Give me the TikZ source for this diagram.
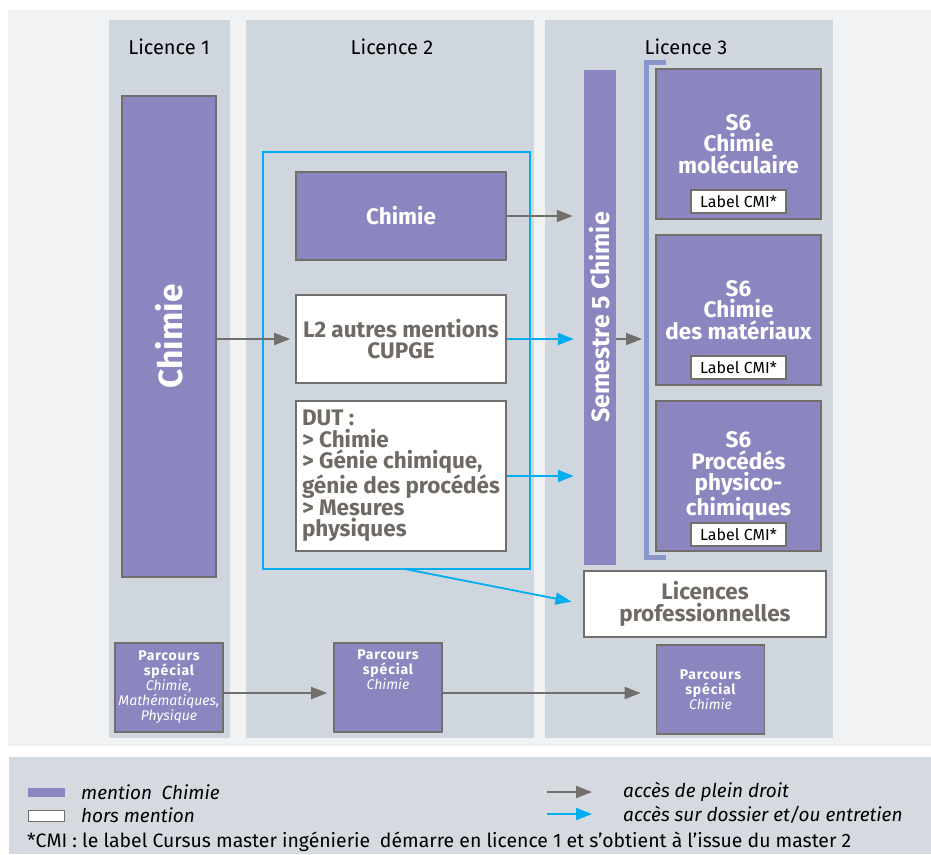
\documentclass[tikz,border=0pt]{standalone}
\usepackage{fontspec}
\setmainfont{Fira Sans}
\definecolor{bg_out}{rgb}{0.945, 0.949, 0.957}
\definecolor{col_c}{rgb}{0.816, 0.839, 0.871}
\definecolor{leg_c}{rgb}{0.835, 0.855, 0.882}
\definecolor{purple_c}{rgb}{0.545, 0.525, 0.749}
\definecolor{frame_c}{rgb}{0.447, 0.431, 0.420}
\definecolor{txt_c}{rgb}{0.439, 0.416, 0.396}
\definecolor{blue_c}{rgb}{0.0, 0.682, 0.937}
\definecolor{brace_c}{rgb}{0.541, 0.588, 0.792}
\usetikzlibrary{arrows.meta,
                positioning}

\begin{document}
\begin{tikzpicture}[
			x=1pt, y=-1pt,
			col/.style = {fill=col_c, inner sep=0pt, anchor=north west, minimum height=718},
			mbox/.style = {fill=purple_c, draw=frame_c, line width=1.6pt, inner sep=0pt, text=white, align=center, font=\bfseries\fontsize{22.5}{21.5}\selectfont},
			wbox/.style = {fill=white, draw=frame_c, line width=1.6pt, inner sep=0pt, text=txt_c, align=center, font=\bfseries\fontsize{22.5}{21.5}\selectfont},
			cmi/.style = {fill=white, draw=frame_c, line width=1.6pt, minimum width=95, minimum height=23, inner sep=0pt, font=\fontsize{16}{17}\selectfont},
			pbox/.style = {fill=purple_c, draw=frame_c, line width=1.6pt, minimum width=108, minimum height=89, inner sep=0pt},
			ptext/.style = {text=white, align=center, inner sep=0pt, font=\fontsize{14}{15}\selectfont},
			year/.style = {font=\fontsize{20}{22}\selectfont},
			vtext/.style = {rotate=90, text=white, inner sep=0pt},
			legtxt/.style = {anchor=west, inner sep=0pt, font=\itshape\fontsize{19}{21}\selectfont},
			gr/.style = {draw=frame_c, line width=1.8pt, -{Triangle[length=16pt,width=12pt]}},
			bl/.style = {draw=blue_c, line width=1.8pt, -{Triangle[length=16pt,width=12pt]}},
			]
			\newfontfamily\spacedbf[LetterSpace=6]{Fira Sans Bold}
			\useasboundingbox (0,0) rectangle (931,854);
			\fill[bg_out] (8,10) rectangle (931,746);
			\fill[leg_c] (9,757) rectangle (931,854);
			% columns
			\node[col, minimum width=121] (c1) at (109,20) {};
			\node[col, minimum width=288] (c2) at (246,20) {};
			\node[col, minimum width=288] (c3) at (545,20) {};
			\node[year] (t1) at (169,47) {Licence 1};
			\node[year] (t2) at (392,47) {Licence 2};
			\node[year] (t3) at (686,47) {Licence 3};
			% licence 1
			\node[mbox, minimum width=94, minimum height=481] (ch1) at (169,336.5) {};
			\node[vtext, font=\bfseries\fontsize{33.5}{34}\selectfont] at (ch1.center) {Chimie};
			% licence 2
			\node[draw=blue_c, line width=2pt, minimum width=267, minimum height=417, inner sep=0pt] (fr) at (396.5,360.5) {};
			\node[mbox, minimum width=210, minimum height=88] (ch2) at (401,216) {Chimie};
			\node[wbox, minimum width=210, minimum height=88] (aut) at (401,339) {L2 autres mentions\\CUPGE};
			\node[wbox, minimum width=210, minimum height=150, align=left] (dut) at (401,476) {DUT :\\> Chimie\\> Génie chimique,\\génie des procédés\\> Mesures\\physiques};
			% licence 3
			\node[fill=purple_c, minimum width=32, minimum height=495, inner sep=0pt] (sem) at (600,317.5) {};
			\node[vtext, font=\bfseries\fontsize{25}{26}\selectfont] at (sem.center) {Semestre 5 Chimie};
			\coordinate (brt) at (646,62.5);
			\coordinate (brb) at (646,557.5);
			\draw[brace_c, line width=5pt] ([xshift=20pt]brt) -- (brt) -- (brb) -- ([xshift=20pt]brb);
			\node[mbox, minimum width=165, minimum height=150] (s6a) at (738.5,144) {S6\\Chimie\\moléculaire};
			\node[mbox, minimum width=165, minimum height=150] (s6b) at (738.5,310) {S6\\Chimie\\des matériaux};
			\node[mbox, minimum width=165, minimum height=150] (s6c) at (738.5,476) {S6\\Procédés\\physico-\\chimiques};
			\node[cmi, above=6pt of s6a.south] (cmia) {Label CMI*};
			\node[cmi, above=6pt of s6b.south] (cmib) {Label CMI*};
			\node[cmi, above=5pt of s6c.south] (cmic) {Label CMI*};
			\node[wbox, minimum width=242, minimum height=66] (lpro) at (705,604) {Licences\\professionnelles};
			% parcours special
			\node[pbox] (p1) at (169,687.5) {};
			\node[ptext] at (p1.center) {{\spacedbf Parcours}\\{\spacedbf spécial}\\\textit{Chimie,}\\\textit{Mathématiques,}\\\textit{Physique}};
			\node[pbox] (p2) at (388,687.5) {};
			\node[ptext, below=7pt of p2.north] {{\spacedbf Parcours}\\{\spacedbf spécial}\\\textit{Chimie}};
			\node[pbox] (p3) at (710.5,689.5) {};
			\node[ptext] at (p3.center) {{\spacedbf Parcours}\\{\spacedbf spécial}\\\textit{Chimie}};
			% arrows
			\draw[gr, shorten >=5pt] (ch1.east |- aut.west) -- (aut.west);
			\draw[gr, shorten >=11pt] (ch2.east) -- (ch2.east -| sem.west);
			\draw[bl, shorten >=10pt] (aut.east) -- (aut.east -| sem.west);
			\draw[bl, shorten >=10pt] (dut.east) -- (dut.east -| sem.west);
			\draw[gr, shorten >=4pt] (sem.east |- aut.east) -- (brt |- aut.east);
			\coordinate (frout) at (405,569);
			\draw[bl, shorten >=12pt] (frout) -- (lpro.west);
			\draw[gr, shorten >=6pt] ([yshift=-5.5pt]p1.east) -- ([yshift=-5.5pt]p1.east -| p2.west);
			\draw[gr, shorten >=15pt] ([yshift=-5.5pt]p2.east) -- ([yshift=-5.5pt]p2.east -| p3.west);
			% legend
			\node[fill=purple_c, minimum width=37, minimum height=9, inner sep=0pt] (kp) at (46.5,792.5) {};
			\node[fill=white, draw=frame_c, line width=1.2pt, minimum width=36, minimum height=11, inner sep=0pt] (kw) at (46.5,816) {};
			\node[legtxt] (kpt) at (81,792) {mention\enspace Chimie};
			\node[legtxt] (kwt) at (81,815) {hors mention};
			\coordinate (ka1) at (547,792);
			\coordinate (ka2) at (592,792);
			\coordinate (kb1) at (547,814);
			\coordinate (kb2) at (592,814);
			\draw[gr] (ka1) -- (ka2);
			\draw[bl] (kb1) -- (kb2);
			\node[legtxt] (kat) at (623,792) {accès de plein droit};
			\node[legtxt] (kbt) at (623,815) {accès sur dossier et/ou entretien};
			\node[anchor=base west, inner sep=0pt, font=\fontsize{19.4}{21}\selectfont] (note) at (27,847) {*CMI : le label Cursus master ingénierie\enspace démarre en licence 1 et s’obtient à l’issue du master 2};
\end{tikzpicture}
\end{document}
